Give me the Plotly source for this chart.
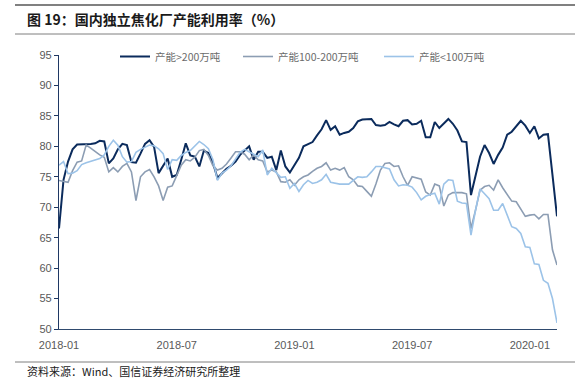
import pandas as pd
import plotly.graph_objects as go

# weekly dates
dates = pd.date_range("2018-01-05", periods=111, freq="7D")

cap_gt200 = [66.5, 74.5, 77.5, 79.5, 80.3, 80.3, 80.4, 80.4, 80.5, 80.9,
             80.8, 77.2, 78.0, 79.5, 80.4, 80.2, 77.4, 77.3, 78.8, 80.4,
             81.0, 79.9, 75.6, 76.8, 78.0, 75.0, 75.3, 77.8, 80.5, 78.5,
             78.3, 76.7, 79.3, 78.9, 77.3, 74.8, 75.5, 76.3, 76.8, 77.5,
             78.6, 79.3, 80.0, 77.8, 79.1, 79.1, 78.1, 78.3, 76.1, 79.3,
             76.7, 75.7, 77.0, 78.1, 80.0, 80.4, 80.7, 81.8, 82.8, 84.3,
             82.7, 83.3, 81.9, 82.2, 82.4, 83.0, 84.1, 84.4, 84.4, 84.5,
             83.5, 83.4, 83.5, 84.0, 83.6, 83.3, 84.2, 84.3, 83.6, 83.7,
             84.2, 81.5, 81.5, 84.0, 83.0, 83.7, 84.5, 83.7, 82.6, 80.8,
             80.7, 72.0, 75.3, 78.3, 80.2, 78.9, 77.1, 78.6, 79.8, 81.9,
             82.4, 83.3, 84.2, 83.4, 82.2, 83.3, 81.3, 81.9, 82.0, 75.3,
             68.5]

cap_100_200 = [74.4, 74.3, 74.1, 76.0, 77.4, 77.6, 80.2, 79.7, 79.1, 78.6,
               78.2, 75.8, 76.5, 75.8, 76.7, 77.2, 75.8, 71.1, 75.0, 75.8,
               76.2, 75.0, 73.5, 71.1, 73.3, 73.5, 75.2, 76.9, 77.8, 77.6,
               78.2, 79.3, 79.5, 78.5, 76.8, 76.1, 76.4, 77.1, 78.1, 79.1,
               79.1, 78.7, 77.8, 78.6, 77.8, 77.6, 75.8, 76.1, 75.8, 74.2,
               74.1, 74.5, 73.6, 74.5, 75.0, 75.3, 75.9, 76.4, 76.7, 77.3,
               76.1, 76.4, 76.1, 76.5, 75.0, 74.5, 73.5, 73.4, 72.6, 71.8,
               73.8, 76.1, 77.2, 77.3, 76.7, 76.8, 75.0, 73.6, 75.0, 74.8,
               74.6, 72.5, 72.0, 73.8, 73.5, 70.2, 72.0, 72.4, 72.4, 72.4,
               72.2, 66.5, 69.5, 72.8, 73.4, 73.6, 72.8, 74.5, 73.2, 72.0,
               71.0, 70.9, 69.8, 68.5, 68.7, 68.8, 68.1, 68.8, 68.8, 63.0,
               60.5]

cap_lt100 = [76.9, 77.5, 75.5, 75.6, 76.0, 77.0, 77.3, 77.5, 77.7, 78.0,
             78.6, 80.0, 81.0, 80.2, 78.3, 77.4, 77.5, 79.0, 79.5, 79.8,
             80.2, 80.1, 79.6, 78.8, 76.2, 77.8, 77.7, 78.5, 79.0, 79.3,
             80.0, 80.8, 80.3, 79.6, 77.8, 74.4, 75.6, 76.1, 76.8, 78.0,
             79.0, 79.5, 79.1, 78.7, 78.3, 79.4, 75.3, 76.4, 75.6, 74.9,
             75.0, 73.1, 73.9, 72.6, 73.7, 74.4, 73.9, 74.1, 74.5, 75.4,
             74.1, 73.9, 73.8, 73.8, 73.8, 74.4, 75.0, 74.9, 75.0, 75.8,
             76.7, 76.7, 76.5, 76.3, 74.5, 73.5, 73.7, 73.6, 73.3, 72.4,
             71.2, 71.8, 72.1, 72.3, 70.5, 73.8, 74.5, 74.4, 71.0, 70.7,
             70.6, 65.4, 69.5, 73.0, 72.2, 71.4, 69.5, 69.5, 70.6, 68.7,
             66.8, 66.5, 65.7, 63.5, 63.4, 60.7, 60.6, 58.0, 57.5, 55.0,
             51.0]

series_names = ["产能>200万吨", "产能100-200万吨", "产能<100万吨"]
series_colors = ["#0b2b5c", "#8c9db3", "#9cc3e8"]
series_widths = [2, 1.6, 1.6]
tick_idx = [0, 26, 52, 78, 104]
tick_text = ["2018-01", "2018-07", "2019-01", "2019-07", "2020-01"]
y_ticks = [50, 55, 60, 65, 70, 75, 80, 85, 90, 95]

W, H = 584, 386
L, R, T, B = 59, 27, 55, 57
PW, PH = W - L - R, H - T - B


def px(x):
    return (x - L) / PW


def py(y):
    return (H - B - y) / PH


legend_ids = ["legend", "legend2", "legend3"]
legend_left_px = [115, 238, 379]

fig = go.Figure()
for name, vals, col, wd, lid in zip(series_names, [cap_gt200, cap_100_200, cap_lt100],
                                    series_colors, series_widths, legend_ids):
    fig.add_trace(go.Scatter(x=dates, y=vals, mode="lines", name=name, legend=lid,
                             line=dict(color=col, width=wd)))

leg_font = dict(family="Noto Sans CJK SC", size=10.5, color="#6b6b6b")
for lid, lx in zip(legend_ids, legend_left_px):
    fig.update_layout({lid: dict(orientation="h", x=px(lx), xanchor="left", y=py(56.5),
                                 yanchor="middle", font=leg_font,
                                 bgcolor="rgba(0,0,0,0)", itemclick=False,
                                 itemdoubleclick=False)})

axis_font = dict(family="Liberation Sans, Arial", size=11, color="#595959")
fig.update_layout(
    width=W, height=H,
    margin=dict(l=L, r=R, t=T, b=B),
    paper_bgcolor="white", plot_bgcolor="white",
    showlegend=True,
    xaxis=dict(range=[dates[0], dates[-1]], tickvals=[dates[i] for i in tick_idx],
               ticktext=tick_text, showgrid=False, zeroline=False,
               showline=True, linecolor="#2f4a6e", linewidth=1.3,
               ticks="", tickfont=axis_font, ticklabelstandoff=6),
    yaxis=dict(range=[50, 95], tickvals=y_ticks, showgrid=False, zeroline=False,
               showline=True, linecolor="#1f3864", linewidth=1.3,
               ticks="outside", ticklen=4, tickcolor="#1f3864", tickwidth=1,
               tickfont=axis_font),
)

line_col = "#7f7f7f"
shapes = [
    dict(type="line", xref="paper", yref="paper", x0=px(15), x1=px(575), y0=py(5), y1=py(5),
         line=dict(color="#808080", width=2)),
    dict(type="line", xref="paper", yref="paper", x0=px(15), x1=px(575), y0=py(34), y1=py(34),
         line=dict(color=line_col, width=1)),
    dict(type="line", xref="paper", yref="paper", x0=px(15), x1=px(575), y0=py(362), y1=py(362),
         line=dict(color=line_col, width=1)),
]
fig.update_layout(shapes=shapes)

fig.add_annotation(xref="paper", yref="paper", x=px(25), y=py(19), xanchor="left", yanchor="middle",
                   text="<b>图 19：国内独立焦化厂产能利用率（%）</b>", showarrow=False,
                   font=dict(family="Noto Sans CJK SC", size=14, color="#1a1a1a"))
fig.add_annotation(xref="paper", yref="paper", x=px(25), y=py(370.5), xanchor="left", yanchor="middle",
                   text="资料来源：Wind、国信证券经济研究所整理", showarrow=False,
                   font=dict(family="Noto Sans CJK SC", size=11, color="#1a1a1a"))

fig.write_html("out.html", config={"displayModeBar": False},
               post_script="document.body.style.margin='0';")
